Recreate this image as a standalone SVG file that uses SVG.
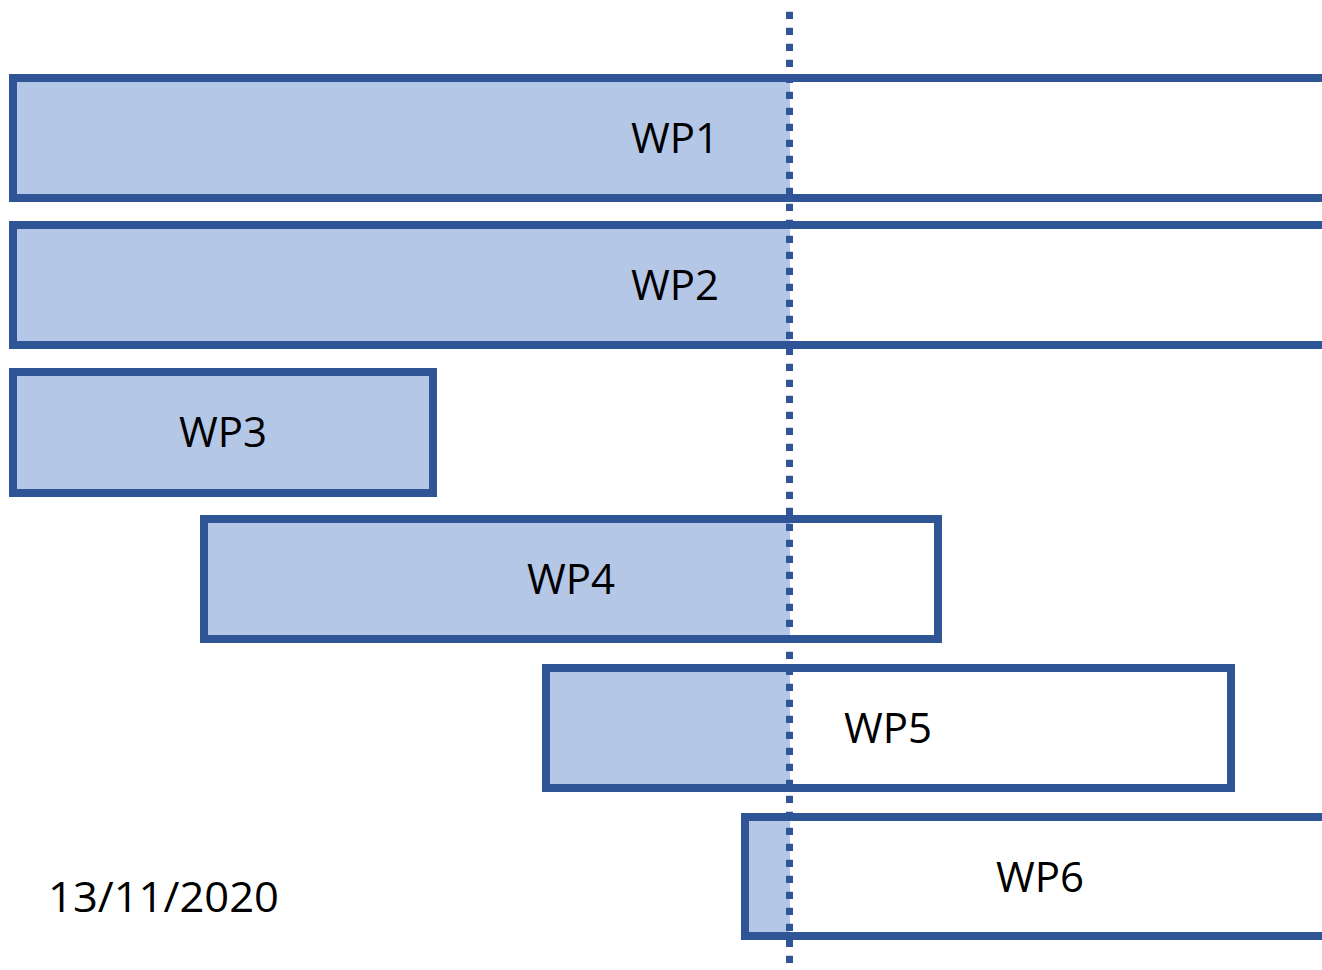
<svg xmlns="http://www.w3.org/2000/svg" width="1322" height="970" viewBox="0 0 1322 970">
<style>
.fill{fill:#B4C7E7;stroke:none}
.box{fill:none;stroke:#2F5597;stroke-width:8}
.lbl{font-family:"Open Sans","Liberation Sans",sans-serif;font-size:42px;fill:#000;text-anchor:middle}
.today{stroke:#2F5597;stroke-width:7;stroke-dasharray:7.3 8.7;fill:none}
</style>
<rect width="1322" height="970" fill="#fff"/>
<g id="wp1">
<rect class="fill" x="13" y="78" width="777" height="120"/>
<rect class="box" x="13" y="78" width="1330" height="120"/>
<text class="lbl" x="675" y="153">WP1</text>
</g>
<g id="wp2">
<rect class="fill" x="13" y="225" width="777" height="120"/>
<rect class="box" x="13" y="225" width="1330" height="120"/>
<text class="lbl" x="675" y="300">WP2</text>
</g>
<g id="wp3">
<rect class="fill" x="13" y="372" width="420" height="121"/>
<rect class="box" x="13" y="372" width="420" height="121"/>
<text class="lbl" x="223" y="447">WP3</text>
</g>
<g id="wp4">
<rect class="fill" x="204" y="519" width="586" height="120"/>
<rect class="box" x="204" y="519" width="734" height="120"/>
<text class="lbl" x="571" y="594">WP4</text>
</g>
<g id="wp5">
<rect class="fill" x="546" y="668" width="244" height="120"/>
<rect class="box" x="546" y="668" width="685" height="120"/>
<text class="lbl" x="888" y="743">WP5</text>
</g>
<g id="wp6">
<rect class="fill" x="745" y="817" width="45" height="119"/>
<rect class="box" x="745" y="817" width="600" height="119"/>
<text class="lbl" x="1040" y="892">WP6</text>
</g>
<g id="connectors">
<line class="today" x1="789.5" y1="11.7" x2="789.5" y2="965"/>
</g>
<g id="date">
<text x="48" y="912" textLength="231" lengthAdjust="spacingAndGlyphs" style="font-family:'Open Sans','Liberation Sans',sans-serif;font-size:42px;fill:#000">13/11/2020</text>
</g>
</svg>
